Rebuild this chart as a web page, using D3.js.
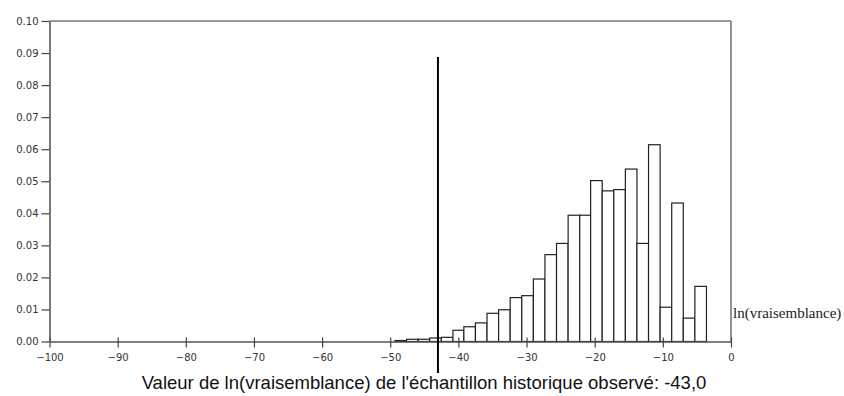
<!DOCTYPE html>
<html>
<head>
<meta charset="utf-8">
<script src="https://cdn.jsdelivr.net/npm/d3@7"></script>
<style>
html,body{margin:0;padding:0;background:#fff;}
svg{display:block;}
</style>
</head>
<body>
<svg id="chart" width="844" height="396"></svg>
<script>
// ---- data ----
const binEdges = [-49.3, -47.6, -45.9, -44.2, -42.5, -40.8, -39.2, -37.5, -35.8, -34.1,
  -32.4, -30.7, -29.0, -27.3, -25.6, -23.9, -22.2, -20.6, -18.9, -17.2,
  -15.5, -13.8, -12.1, -10.4, -8.7, -7.0, -5.3, -3.6];
const densities = [0.0003, 0.0007, 0.0007, 0.0011, 0.0013, 0.0035, 0.0046, 0.0058, 0.0088, 0.0099,
  0.0137, 0.0143, 0.0195, 0.0271, 0.0306, 0.0394, 0.0394, 0.0502, 0.0470, 0.0474,
  0.0538, 0.0306, 0.0614, 0.0107, 0.0432, 0.0073, 0.0172];
const xTicks = [-100, -90, -80, -70, -60, -50, -40, -30, -20, -10, 0];
const yTicks = [0, 0.01, 0.02, 0.03, 0.04, 0.05, 0.06, 0.07, 0.08, 0.09, 0.10];
const observedValue = -43.0;
const axisLabel = "ln(vraisemblance)";
const caption = "Valeur de ln(vraisemblance) de l'échantillon historique observé: -43,0";

// ---- chart ----
const svg = d3.select("#chart");
const x = d3.scaleLinear().domain([-100, 0]).range([49.5, 731]);
const y = d3.scaleLinear().domain([0, 0.10]).range([341.5, 21]);

// frame (top & right)
svg.append("line").attr("x1", 49.5).attr("x2", 731).attr("y1", y(0.10)).attr("y2", y(0.10))
  .attr("stroke", "#777").attr("stroke-width", 1.6);
svg.append("line").attr("x1", x(0)).attr("x2", x(0)).attr("y1", y(0.10)).attr("y2", y(0))
  .attr("stroke", "#666").attr("stroke-width", 1.4);

// bars
const bins = densities.map((d, i) => ({x0: binEdges[i], x1: binEdges[i + 1], v: d}));
svg.append("g").selectAll("rect").data(bins).join("rect")
  .attr("x", d => x(d.x0))
  .attr("width", d => x(d.x1) - x(d.x0))
  .attr("y", d => y(d.v))
  .attr("height", d => y(0) - y(d.v))
  .attr("fill", "#fff")
  .attr("stroke", "#222")
  .attr("stroke-width", 1.2);

// axes
const fmtX = d => d < 0 ? "\u2212" + Math.abs(d) : String(d);
const gx = svg.append("g").attr("transform", `translate(0,${y(0)})`)
  .call(d3.axisBottom(x).tickValues(xTicks).tickSize(6).tickSizeOuter(0).tickFormat(fmtX));
const gy = svg.append("g").attr("transform", `translate(${x(-100)},0)`)
  .call(d3.axisLeft(y).tickValues(yTicks).tickSize(8).tickSizeOuter(0).tickFormat(d3.format(".2f")));
[gx, gy].forEach(g => {
  g.select(".domain").attr("stroke", "#555").attr("stroke-width", 1.6);
  g.selectAll(".tick line").attr("stroke", "#444").attr("stroke-width", 1.2);
  g.selectAll("text").attr("font-family", "DejaVu Sans, Verdana, sans-serif")
    .attr("font-size", 10).attr("fill", "#333");
});
gx.selectAll(".tick line").attr("y1", -4);
gx.selectAll("text").attr("dy", "0.95em").attr("y", 10);
gy.selectAll("text").attr("x", -11);

// observed value line
svg.append("line").attr("x1", x(observedValue)).attr("x2", x(observedValue))
  .attr("y1", 57).attr("y2", 373)
  .attr("stroke", "#000").attr("stroke-width", 2);

// axis variable label
svg.append("text").attr("x", x(0) + 2).attr("y", 318)
  .attr("font-family", "Liberation Serif, Times New Roman, serif")
  .attr("font-size", 15).attr("fill", "#222").text(axisLabel);

// caption
svg.append("text").attr("x", 424).attr("y", 389).attr("text-anchor", "middle")
  .attr("font-family", "Liberation Sans, Arial, sans-serif")
  .attr("font-size", 18.5).attr("fill", "#111").text(caption);
</script>
</body>
</html>
